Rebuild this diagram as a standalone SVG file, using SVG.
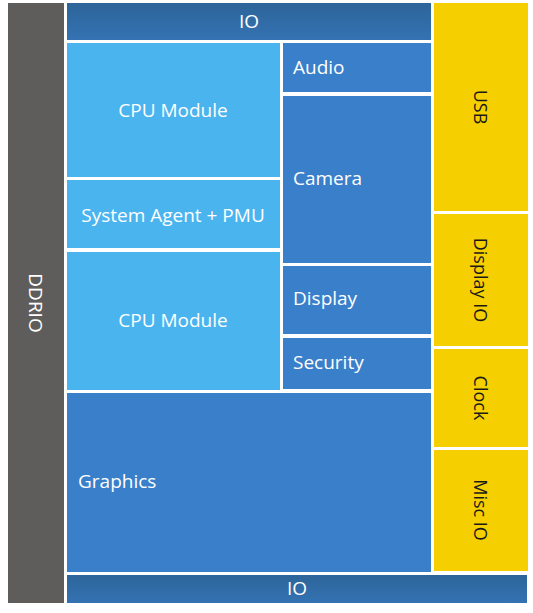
<svg xmlns="http://www.w3.org/2000/svg" width="533" height="613" viewBox="0 0 533 613">
<defs>
<linearGradient id="ioGrad" x1="0" y1="0" x2="0" y2="1">
<stop offset="0" stop-color="#2d6599"/>
<stop offset="1" stop-color="#3472b3"/>
</linearGradient>
</defs>
<style>
.gray{fill:#5e5d5b}
.light{fill:#4ab4ef}
.mid{fill:#3a7fca}
.io{fill:url(#ioGrad)}
.yellow{fill:#f5cf00}
.t{font-family:"Open Sans","Noto Sans",sans-serif;font-size:19px;fill:#ffffff;dominant-baseline:central}
.ty{font-family:"Open Sans","Noto Sans",sans-serif;font-size:18px;fill:#1a1a1a;dominant-baseline:central;text-anchor:middle}
.c{text-anchor:middle}
</style>
<rect width="533" height="613" fill="#ffffff"/>
<g id="ddrio"><rect class="gray" x="8" y="3" width="56" height="600"/><text class="t c" transform="translate(36,303) rotate(90)">DDRIO</text></g>
<g id="io-top"><rect class="io" x="67" y="3" width="364" height="37"/><text class="t c" x="249" y="21">IO</text></g>
<g id="cpu1"><rect class="light" x="67" y="43" width="213" height="134"/><text class="t c" x="173" y="110">CPU Module</text></g>
<g id="sa"><rect class="light" x="67" y="180" width="213" height="68"/><text class="t c" x="173" y="215">System Agent + PMU</text></g>
<g id="cpu2"><rect class="light" x="67" y="252" width="213" height="138"/><text class="t c" x="173" y="320">CPU Module</text></g>
<g id="audio"><rect class="mid" x="283" y="43" width="148" height="49"/><text class="t" x="293" y="67">Audio</text></g>
<g id="camera"><rect class="mid" x="283" y="96" width="148" height="167"/><text class="t" x="293" y="178">Camera</text></g>
<g id="display"><rect class="mid" x="283" y="266" width="148" height="68"/><text class="t" x="293" y="298">Display</text></g>
<g id="security"><rect class="mid" x="283" y="338" width="148" height="51"/><text class="t" x="293" y="362">Security</text></g>
<g id="graphics"><rect class="mid" x="67" y="393" width="364" height="179"/><text class="t" x="78" y="481">Graphics</text></g>
<g id="io-bottom"><rect class="io" x="67" y="575" width="460" height="28"/><text class="t c" x="297" y="588">IO</text></g>
<g id="usb"><rect class="yellow" x="434" y="3" width="94" height="208"/><text class="ty" transform="translate(481,107) rotate(90)">USB</text></g>
<g id="displayio"><rect class="yellow" x="434" y="214" width="94" height="132"/><text class="ty" transform="translate(481,280) rotate(90)">Display IO</text></g>
<g id="clock"><rect class="yellow" x="434" y="349" width="94" height="98"/><text class="ty" transform="translate(481,398) rotate(90)">Clock</text></g>
<g id="miscio"><rect class="yellow" x="434" y="450" width="94" height="121"/><text class="ty" transform="translate(481,510) rotate(90)">Misc IO</text></g>
<g id="connectors"></g>
</svg>
